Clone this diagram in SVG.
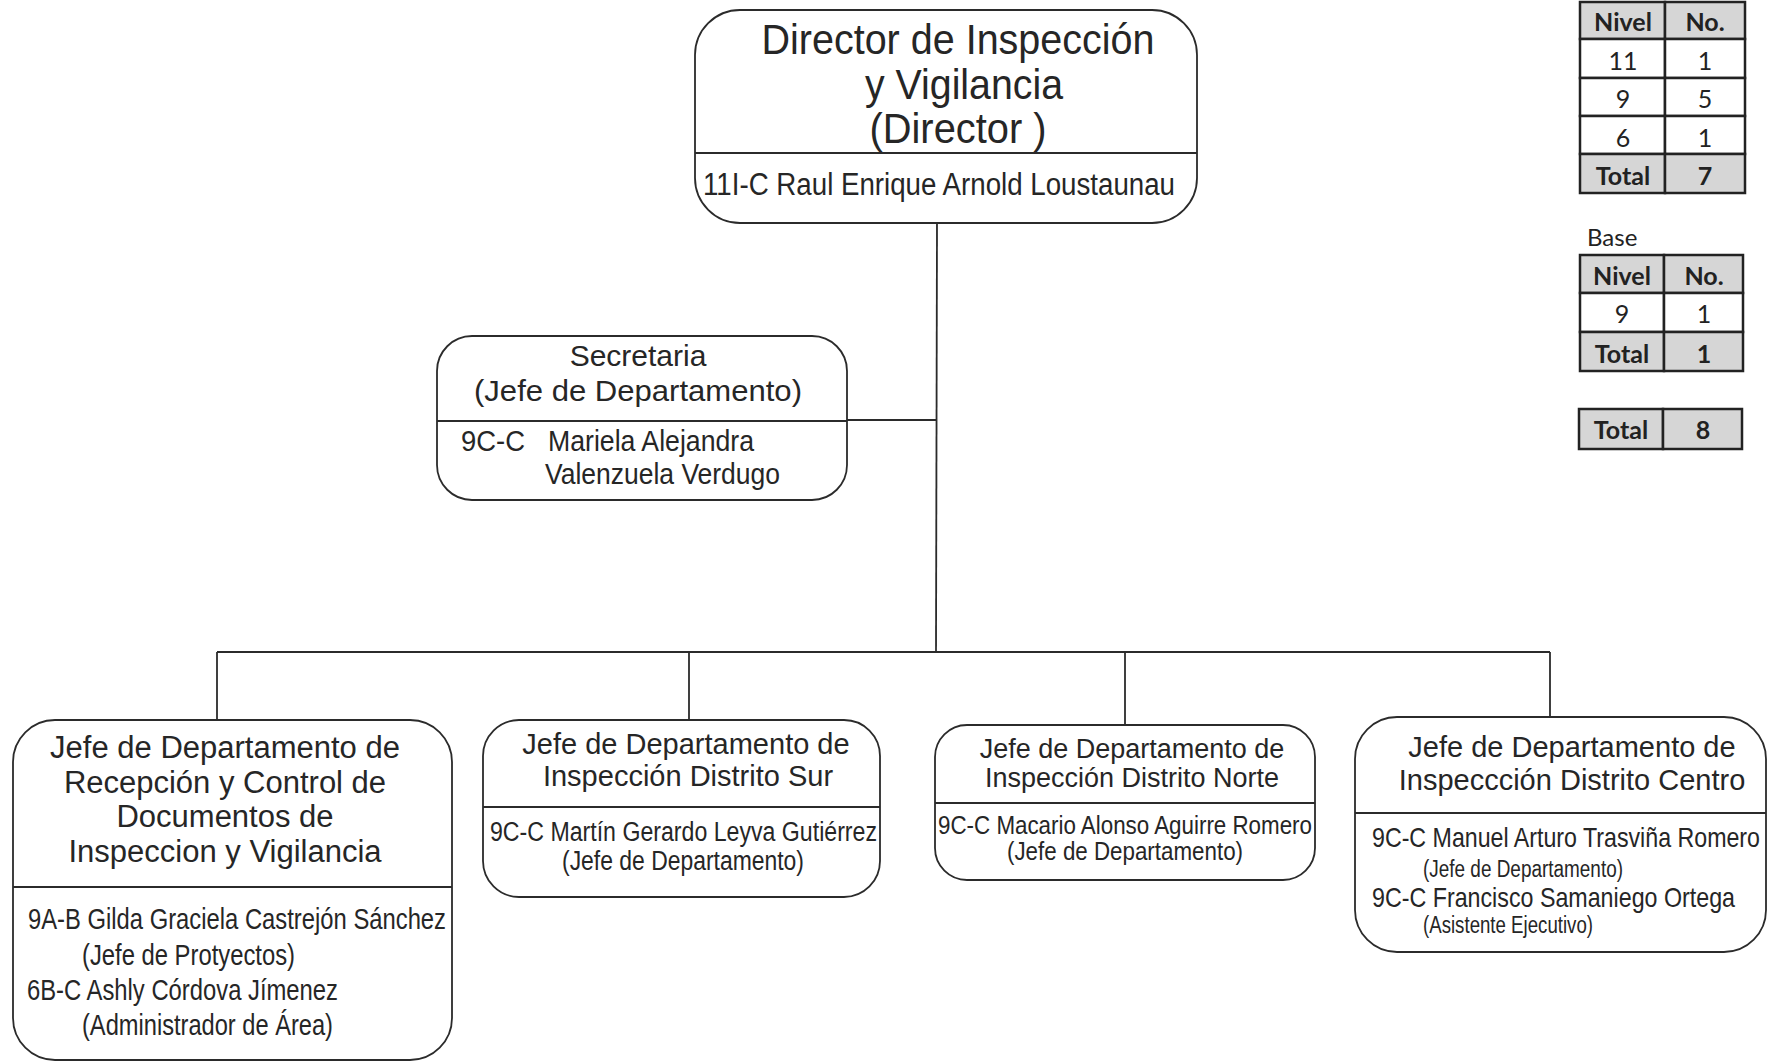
<svg xmlns="http://www.w3.org/2000/svg" width="1768" height="1063" viewBox="0 0 1768 1063">
<style>
.bg{fill:#ffffff}
.box{fill:#ffffff;stroke:#2b2b2b;stroke-width:1.8}
.div{stroke:#2b2b2b;stroke-width:1.8}
.con{stroke:#2b2b2b;stroke-width:1.8;fill:none}
.t{font-family:"Liberation Sans",Arial,sans-serif;fill:#262626}
.c{text-anchor:middle}
.tb{font-family:Lato,"Open Sans",sans-serif;fill:#222;text-anchor:middle}
.hd{font-weight:bold}
.cell{fill:#ffffff;stroke:#222;stroke-width:2.5}
.gcell{fill:#d6d6d6;stroke:#222;stroke-width:2.5}
</style>
<rect class="bg" x="0" y="0" width="1768" height="1063"/>

<g id="connectors">
<line class="con" x1="937" y1="223" x2="936" y2="653"/>
<line class="con" x1="847" y1="420" x2="937" y2="420"/>
<line class="con" x1="217" y1="652" x2="1550" y2="652"/>
<line class="con" x1="217" y1="652" x2="217" y2="720"/>
<line class="con" x1="689" y1="652" x2="689" y2="720"/>
<line class="con" x1="1125" y1="652" x2="1125" y2="725"/>
<line class="con" x1="1550" y1="652" x2="1550" y2="717"/>
</g>

<g id="director">
<rect class="box" x="695" y="10" width="502" height="213" rx="45" ry="45"/>
<line class="div" x1="695" y1="153" x2="1197" y2="153"/>
<text class="t c" x="958" y="54" font-size="42" textLength="393" lengthAdjust="spacingAndGlyphs">Director de Inspección</text>
<text class="t c" x="964" y="99" font-size="42" textLength="198" lengthAdjust="spacingAndGlyphs">y Vigilancia</text>
<text class="t c" x="958" y="143" font-size="42" textLength="177" lengthAdjust="spacingAndGlyphs">(Director )</text>
<text class="t" x="703" y="195" font-size="31" textLength="472" lengthAdjust="spacingAndGlyphs">11I-C Raul Enrique Arnold Loustaunau</text>
</g>

<g id="secretaria">
<rect class="box" x="437" y="336" width="410" height="164" rx="35" ry="35"/>
<line class="div" x1="437" y1="421" x2="847" y2="421"/>
<text class="t c" x="638" y="366" font-size="30">Secretaria</text>
<text class="t c" x="638" y="401" font-size="30" textLength="328" lengthAdjust="spacingAndGlyphs">(Jefe de Departamento)</text>
<text class="t" x="461" y="451" font-size="30" textLength="64" lengthAdjust="spacingAndGlyphs">9C-C</text>
<text class="t" x="548" y="451" font-size="30" textLength="206" lengthAdjust="spacingAndGlyphs">Mariela Alejandra</text>
<text class="t" x="545" y="484" font-size="30" textLength="235" lengthAdjust="spacingAndGlyphs">Valenzuela Verdugo</text>
</g>

<g id="recepcion">
<rect class="box" x="13" y="720" width="439" height="340" rx="42" ry="42"/>
<line class="div" x1="13" y1="887" x2="452" y2="887"/>
<text class="t c" x="225" y="758" font-size="31">Jefe de Departamento de</text>
<text class="t c" x="225" y="793" font-size="31">Recepción y Control de</text>
<text class="t c" x="225" y="827" font-size="31">Documentos de</text>
<text class="t c" x="225" y="862" font-size="31">Inspeccion y Vigilancia</text>
<text class="t" x="28" y="929" font-size="29" textLength="418" lengthAdjust="spacingAndGlyphs">9A-B Gilda Graciela Castrejón Sánchez</text>
<text class="t" x="82" y="965" font-size="29" textLength="213" lengthAdjust="spacingAndGlyphs">(Jefe de Protyectos)</text>
<text class="t" x="27" y="1000" font-size="29" textLength="311" lengthAdjust="spacingAndGlyphs">6B-C Ashly Córdova Jímenez</text>
<text class="t" x="82" y="1035" font-size="29" textLength="251" lengthAdjust="spacingAndGlyphs">(Administrador de Área)</text>
</g>

<g id="sur">
<rect class="box" x="483" y="720" width="397" height="177" rx="36" ry="36"/>
<line class="div" x1="483" y1="807" x2="880" y2="807"/>
<text class="t c" x="686" y="754" font-size="29">Jefe de Departamento de</text>
<text class="t c" x="688" y="786" font-size="29">Inspección Distrito Sur</text>
<text class="t" x="490" y="841" font-size="27" textLength="387" lengthAdjust="spacingAndGlyphs">9C-C Martín Gerardo Leyva Gutiérrez</text>
<text class="t" x="562" y="870" font-size="27" textLength="242" lengthAdjust="spacingAndGlyphs">(Jefe de Departamento)</text>
</g>

<g id="norte">
<rect class="box" x="935" y="725" width="380" height="155" rx="32" ry="32"/>
<line class="div" x1="935" y1="803" x2="1315" y2="803"/>
<text class="t c" x="1132" y="758" font-size="27">Jefe de Departamento de</text>
<text class="t c" x="1132" y="787" font-size="27">Inspección Distrito Norte</text>
<text class="t" x="938" y="834" font-size="25" textLength="374" lengthAdjust="spacingAndGlyphs">9C-C Macario Alonso Aguirre Romero</text>
<text class="t" x="1007" y="860" font-size="25" textLength="236" lengthAdjust="spacingAndGlyphs">(Jefe de Departamento)</text>
</g>

<g id="centro">
<rect class="box" x="1355" y="717" width="411" height="235" rx="42" ry="42"/>
<line class="div" x1="1355" y1="813" x2="1766" y2="813"/>
<text class="t c" x="1572" y="757" font-size="29">Jefe de Departamento de</text>
<text class="t c" x="1572" y="790" font-size="29">Inspeccción Distrito Centro</text>
<text class="t" x="1372" y="847" font-size="28" textLength="388" lengthAdjust="spacingAndGlyphs">9C-C Manuel Arturo Trasviña Romero</text>
<text class="t" x="1423" y="877" font-size="23" textLength="200" lengthAdjust="spacingAndGlyphs">(Jefe de Departamento)</text>
<text class="t" x="1372" y="907" font-size="28" textLength="363" lengthAdjust="spacingAndGlyphs">9C-C Francisco Samaniego Ortega</text>
<text class="t" x="1423" y="933" font-size="23" textLength="170" lengthAdjust="spacingAndGlyphs">(Asistente Ejecutivo)</text>
</g>

<g id="tabla-confianza">
<rect class="gcell" x="1580" y="2" width="85" height="37"/>
<rect class="gcell" x="1665" y="2" width="80" height="37"/>
<rect class="cell" x="1580" y="39" width="85" height="39"/>
<rect class="cell" x="1665" y="39" width="80" height="39"/>
<rect class="cell" x="1580" y="78" width="85" height="38"/>
<rect class="cell" x="1665" y="78" width="80" height="38"/>
<rect class="cell" x="1580" y="116" width="85" height="38"/>
<rect class="cell" x="1665" y="116" width="80" height="38"/>
<rect class="gcell" x="1580" y="154" width="85" height="39"/>
<rect class="gcell" x="1665" y="154" width="80" height="39"/>
<text class="tb hd" x="1623" y="31" font-size="25">Nivel</text>
<text class="tb hd" x="1705" y="31" font-size="25">No.</text>
<text class="tb" x="1623" y="70" font-size="25">11</text>
<text class="tb" x="1705" y="70" font-size="25">1</text>
<text class="tb" x="1623" y="108" font-size="25">9</text>
<text class="tb" x="1705" y="108" font-size="25">5</text>
<text class="tb" x="1623" y="147" font-size="25">6</text>
<text class="tb" x="1705" y="147" font-size="25">1</text>
<text class="tb hd" x="1623" y="185" font-size="25">Total</text>
<text class="tb hd" x="1705" y="185" font-size="25">7</text>
</g>

<g id="tabla-base">
<text class="tb" x="1587" y="246" font-size="24" style="text-anchor:start">Base</text>
<rect class="gcell" x="1580" y="255" width="84" height="38"/>
<rect class="gcell" x="1664" y="255" width="79" height="38"/>
<rect class="cell" x="1580" y="293" width="84" height="39"/>
<rect class="cell" x="1664" y="293" width="79" height="39"/>
<rect class="gcell" x="1580" y="332" width="84" height="39"/>
<rect class="gcell" x="1664" y="332" width="79" height="39"/>
<text class="tb hd" x="1622" y="285" font-size="25">Nivel</text>
<text class="tb hd" x="1704" y="285" font-size="25">No.</text>
<text class="tb" x="1622" y="323" font-size="25">9</text>
<text class="tb" x="1704" y="323" font-size="25">1</text>
<text class="tb hd" x="1622" y="363" font-size="25">Total</text>
<text class="tb hd" x="1704" y="363" font-size="25">1</text>
</g>

<g id="tabla-total">
<rect class="gcell" x="1579" y="409" width="84" height="40"/>
<rect class="gcell" x="1663" y="409" width="79" height="40"/>
<text class="tb hd" x="1621" y="439" font-size="25">Total</text>
<text class="tb hd" x="1703" y="439" font-size="25">8</text>
</g>
</svg>
